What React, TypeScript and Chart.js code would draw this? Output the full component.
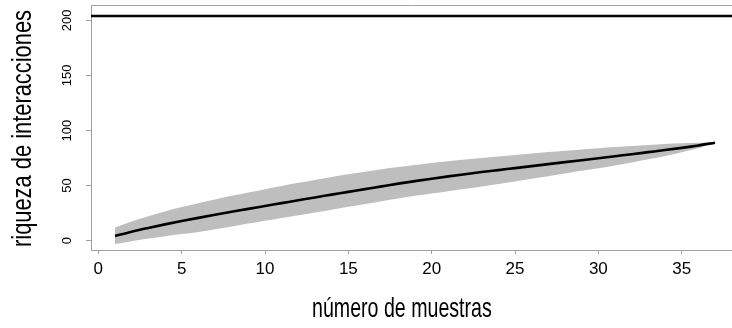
import React, { useEffect, useRef } from 'react';
import { Chart, registerables } from 'chart.js';

Chart.register(...registerables);

// ---- data ----
const samples = [1, 2, 3, 4, 5, 6, 7, 8, 9, 10, 11, 12, 13, 14, 15, 16, 17, 18, 19, 20, 21, 22, 23, 24, 25, 26, 27, 28, 29, 30, 31, 32, 33, 34, 35, 36, 37];
const meanRichness = [4.3, 8.2, 11.6, 14.8, 17.8, 20.7, 23.5, 26.2, 28.9, 31.5, 34.1, 36.7, 39.3, 41.8, 44.3, 46.8, 49.3, 51.8, 54.1, 56.3, 58.4, 60.4, 62.3, 64.1, 65.9, 67.7, 69.5, 71.3, 73.1, 74.9, 76.7, 78.5, 80.4, 82.3, 84.3, 86.5, 89];
const upperCI = [12, 17.5, 22.3, 26.6, 30.5, 34, 37.4, 40.7, 43.8, 46.8, 49.7, 52.5, 55.2, 57.8, 60.3, 62.7, 64.9, 66.9, 68.8, 70.6, 72.2, 73.7, 75.1, 76.4, 77.9, 79.2, 80.5, 81.7, 82.9, 84, 85.1, 86, 86.9, 87.7, 88.4, 89, 89];
const lowerCI = [-3, -0.4, 1.9, 4, 6, 8, 10.5, 13, 15.5, 18, 20.6, 23.1, 25.7, 28.2, 30.8, 33.3, 35.9, 38.4, 40.7, 42.9, 45, 47.2, 49.3, 51.5, 53.8, 56.2, 58.6, 61, 63.4, 65.8, 68.3, 71, 73.9, 77, 80.4, 84, 89];
const expectedRichness = 204;

const xTicks = [0, 5, 10, 15, 20, 25, 30, 35];
const yTicks = [0, 50, 100, 150, 200];
const xTitle = 'número de muestras';
const yTitle = 'riqueza de interacciones';

const X_MIN = -0.44;
const X_MAX = 38.02;
const Y_MIN = -8.45;
const Y_MAX = 214;

const AXIS_GRAY = '#a0a0a0';
const REGULAR = '"Liberation Sans", Arial, Helvetica, sans-serif';

// axis titles are drawn with a condensed face (horizontal squeeze), as in the reference
const titlePlugin = {
  id: 'condensedTitles',
  afterDraw(chart: any) {
    const { ctx, chartArea } = chart;
    ctx.save();
    ctx.fillStyle = '#000000';
    ctx.textAlign = 'center';
    ctx.textBaseline = 'alphabetic';
    // x title
    ctx.save();
    ctx.font = `28px ${REGULAR}`;
    ctx.translate(chartArea.left + (chartArea.right - chartArea.left) * 0.485, chartArea.bottom + 66.7);
    ctx.scale(0.7, 1);
    ctx.fillText(xTitle, 0, 0);
    ctx.restore();
    // y title
    ctx.save();
    ctx.font = `27.5px ${REGULAR}`;
    ctx.translate(30.7, (chartArea.top + chartArea.bottom) / 2 + 1);
    ctx.rotate(-Math.PI / 2);
    ctx.scale(0.795, 1);
    ctx.fillText(yTitle, 0, 0);
    ctx.restore();
    ctx.restore();
  },
};

const boxPlugin = {
  id: 'topBox',
  afterDatasetsDraw(chart: any) {
    const { ctx, chartArea } = chart;
    ctx.save();
    ctx.strokeStyle = AXIS_GRAY;
    ctx.lineWidth = 1;
    ctx.beginPath();
    ctx.moveTo(chartArea.left, chartArea.top + 0.5);
    ctx.lineTo(chartArea.right, chartArea.top + 0.5);
    ctx.stroke();
    ctx.restore();
  },
};

export default function App() {
  const canvasRef = useRef<HTMLCanvasElement | null>(null);

  useEffect(() => {
    document.body.style.margin = '0';
    const canvas = canvasRef.current;
    if (!canvas) return;
    const pts = (ys: number[]) => samples.map((x, i) => ({ x, y: ys[i] }));

    const chart = new Chart(canvas, {
      type: 'line',
      data: {
        datasets: [
          {
            label: 'media',
            data: pts(meanRichness),
            borderColor: '#000000',
            borderWidth: 2.6,
            pointRadius: 0,
            fill: false,
            tension: 0.4,
            cubicInterpolationMode: 'monotone',
          },
          {
            label: 'asintota',
            data: [
              { x: X_MIN, y: expectedRichness },
              { x: X_MAX, y: expectedRichness },
            ],
            borderColor: '#000000',
            borderWidth: 2.6,
            pointRadius: 0,
            fill: false,
          },
          {
            label: 'superior',
            data: pts(upperCI),
            borderWidth: 0,
            borderColor: 'rgba(0,0,0,0)',
            backgroundColor: '#bebebe',
            pointRadius: 0,
            fill: '+1',
            tension: 0.4,
            cubicInterpolationMode: 'monotone',
          },
          {
            label: 'inferior',
            data: pts(lowerCI),
            borderWidth: 0,
            borderColor: 'rgba(0,0,0,0)',
            pointRadius: 0,
            fill: false,
            tension: 0.4,
            cubicInterpolationMode: 'monotone',
          },
        ],
      },
      options: {
        responsive: false,
        animation: false,
        events: [],
        layout: { padding: { top: 5, left: 0, right: 0, bottom: 0 } },
        plugins: {
          legend: { display: false },
          tooltip: { enabled: false },
        },
        scales: {
          x: {
            type: 'linear',
            min: X_MIN,
            max: X_MAX,
            afterBuildTicks: (s: any) => {
              s.ticks = xTicks.map((v) => ({ value: v }));
            },
            afterFit: (s: any) => {
              s.height = 78;
              s.paddingLeft = 0;
              s.paddingRight = 0;
            },
            grid: { drawOnChartArea: false, drawTicks: true, tickLength: 4, color: AXIS_GRAY, lineWidth: 1 },
            border: { display: true, color: AXIS_GRAY, width: 1 },
            ticks: {
              maxRotation: 0,
              minRotation: 0,
              padding: 5,
              color: '#000000',
              font: { family: REGULAR, size: 17 },
            },
            title: { display: false },
          },
          y: {
            type: 'linear',
            min: Y_MIN,
            max: Y_MAX,
            afterBuildTicks: (s: any) => {
              s.ticks = yTicks.map((v) => ({ value: v }));
            },
            afterFit: (s: any) => {
              s.width = 91;
              s.paddingTop = 0;
              s.paddingBottom = 0;
            },
            grid: { drawOnChartArea: false, drawTicks: true, tickLength: 5, color: AXIS_GRAY, lineWidth: 1 },
            border: { display: true, color: AXIS_GRAY, width: 1 },
            ticks: {
              minRotation: 90,
              maxRotation: 90,
              crossAlign: 'center',
              padding: 8,
              color: '#000000',
              font: { family: REGULAR, size: 13 },
            },
            title: { display: false },
          },
        },
      },
      plugins: [boxPlugin, titlePlugin],
    } as any);

    return () => chart.destroy();
  }, []);

  return (
    <div style={{ position: 'absolute', left: 0, top: 0, width: 732, height: 328, background: '#ffffff' }}>
      <canvas ref={canvasRef} width={732} height={328} style={{ display: 'block' }} />
    </div>
  );
}
